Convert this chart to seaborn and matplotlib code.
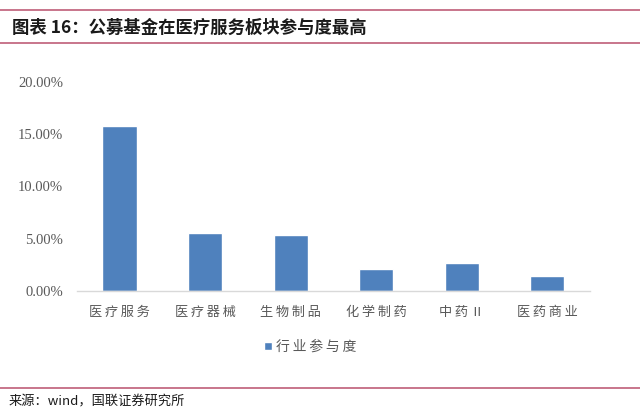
import matplotlib
matplotlib.use("Agg")
import matplotlib.pyplot as plt
from matplotlib.lines import Line2D
import seaborn as sns
import pandas as pd

# Industry participation of public funds (%)
categories = ["医疗服务", "医疗器械", "生物制品", "化学制药", "中药Ⅱ", "医药商业"]
participation = [15.75, 5.50, 5.32, 2.13, 2.70, 1.43]
series_name = "行业参与度"
y_ticks = [0, 5, 10, 15, 20]

title_text = "图表 16：公募基金在医疗服务板块参与度最高"
source_text = "来源：wind，国联证券研究所"

sns.set_theme(style="white")
plt.rcParams["font.family"] = ["Noto Sans CJK SC", "DejaVu Sans"]

bar_color = "#4f81bd"
rule_color = "#c46a82"
label_gray = "#595959"

df = pd.DataFrame({"category": categories, "value": participation,
                   "series": series_name})

fig = plt.figure(figsize=(6.4, 4.17), dpi=100)
ax = fig.add_axes([0.120, 0.302, 0.802, 0.502])

sns.barplot(data=df, x="category", y="value", hue="series",
            palette=[bar_color], width=0.4, ax=ax, saturation=1)

ax.set_ylim(0, 20)
ax.set_yticks(y_ticks)
ax.set_yticklabels([f"{t:.2f}%" for t in y_ticks],
                   family="Liberation Serif", fontsize=10.5, color=label_gray)
spaced = ["\u2009".join(list(c)) for c in categories]
ax.set_xticks(range(len(categories)))
ax.set_xticklabels(spaced, fontsize=9.5, color=label_gray)
ax.tick_params(axis="x", length=0, pad=11)
ax.tick_params(axis="y", length=0, pad=10)
ax.set_xlabel("")
ax.set_ylabel("")
ax.set_xlim(-0.5, len(categories) - 0.5)

for side in ["top", "right", "left"]:
    ax.spines[side].set_visible(False)
ax.spines["bottom"].set_color("#d9d9d9")
ax.spines["bottom"].set_linewidth(1.0)

leg = ax.legend(loc="center", bbox_to_anchor=(0.485, 0.168),
                bbox_transform=fig.transFigure, frameon=False,
                handlelength=0.6, handleheight=0.6, handletextpad=0.3,
                fontsize=10, labelcolor=label_gray)
leg.get_texts()[0].set_text("\u2009".join(list(series_name)))

# header and footer rules
for y in (0.976, 0.897, 0.070):
    fig.add_artist(Line2D([0, 1], [y, y], transform=fig.transFigure,
                          color=rule_color, linewidth=1.3))

fig.text(0.019, 0.933, title_text, fontsize=12.5, fontweight="bold",
         color="#1a1a1a", va="center", ha="left")
fig.text(0.013, 0.036, source_text, fontsize=9.5, color="#1a1a1a",
         va="center", ha="left")

fig.savefig("out.png", dpi=100)
